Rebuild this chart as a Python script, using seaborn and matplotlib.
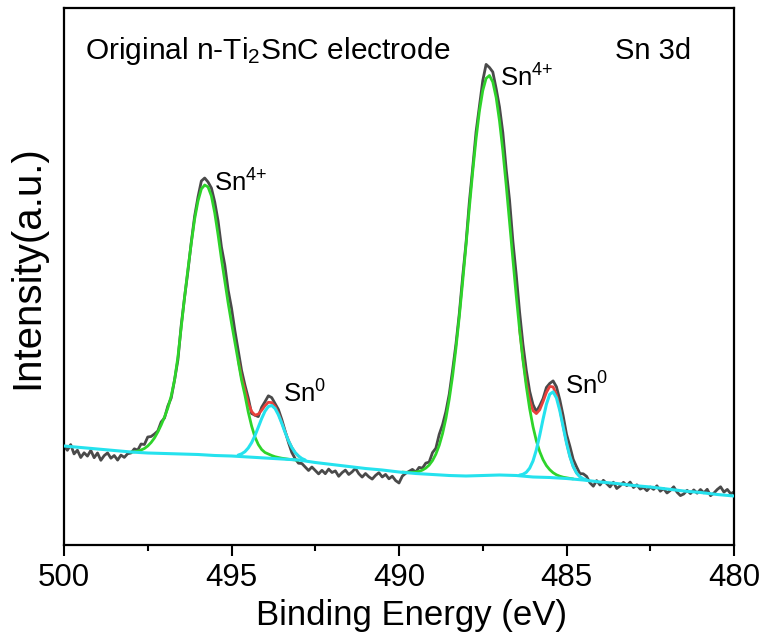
import numpy as np
import pandas as pd
import matplotlib
matplotlib.use("Agg")
import matplotlib.pyplot as plt
import seaborn as sns
from matplotlib.ticker import MultipleLocator

# measured Sn 3d spectrum, 0.1 eV step from 500 down to 480 eV
energy = np.round(np.linspace(500, 480, 201), 1)
raw_counts = [
    99, 94.7, 100.4, 91.1, 94.8, 87.5, 92.2, 88.9, 94.6, 87.3,
    92, 84.7, 89.4, 92.1, 86.8, 89.5, 84.9, 89.9, 87.6, 91.3,
    92, 96.2, 94.8, 101, 100.5, 108, 108.5, 111, 114, 123,
    127, 139, 147, 165, 185, 220, 248, 274, 303, 329,
    348, 364, 367, 363, 357, 343, 324, 298, 280, 255,
    237, 214.5, 194.3, 174.7, 160.1, 147, 131.5, 129.8, 128.4, 137.7,
    143.3, 149.2, 147.4, 141.4, 135.5, 125.6, 114.2, 102.5, 92.5, 86.3,
    81.8, 81.5, 78, 74.5, 78, 74.5, 71.1, 74.7, 71.3, 75.9,
    72.5, 74.1, 68.7, 72.3, 74.9, 70.5, 73.1, 76.7, 71.3, 67.9,
    71.5, 68.2, 65.9, 69.6, 72.3, 68, 70.6, 66.2, 68.8, 64.4,
    62, 68.9, 71.7, 73.6, 75.6, 72.9, 77.6, 76.9, 81.9, 82.9,
    92.4, 96.8, 110.6, 120.3, 133.5, 150.9, 175.0, 200.9, 231.4, 268.1,
    301.8, 343.1, 377.2, 413.1, 438.8, 464.3, 480.6, 477.5, 473.0, 456.5,
    438.0, 412.3, 375.8, 344.9, 303.6, 270.1, 232.9, 200.7, 174.7, 153.8,
    140.4, 133.4, 139.2, 146.4, 157.5, 161.6, 164.1, 158.2, 145.3, 129.3,
    110.8, 98.9, 85.7, 78.2, 71.4, 71.2, 68.6, 62.2, 58.8, 64.4,
    60, 64.7, 61.4, 58.1, 62.8, 56.5, 59.1, 62.7, 59.3, 62.9,
    57.5, 60.2, 55.9, 57.6, 54.3, 58, 55.6, 59.2, 53.8, 56.4,
    52, 54.6, 58.2, 52.8, 49.4, 51, 54.7, 51.4, 55.1, 51.8,
    55.5, 52.1, 55.7, 49.3, 51.9, 55.5, 58.2, 52.9, 55.6, 51.3,
    53,
]

# background, 0.5 eV step
bg_energy = np.round(np.linspace(500, 480, 41), 1)
bg_counts = [
    99, 97.5, 96, 94.5, 93, 92, 91.5, 91, 90.5, 89.5,
    89, 88, 87, 86, 85, 82.5, 80.5, 78.5, 76.5, 75,
    73, 71.5, 70.5, 69.5, 69, 69.5, 70, 69.5, 68, 67.5,
    66.5, 65, 63, 61.5, 59.5, 58, 56, 54, 52.5, 50.5, 49,
]

# Sn4+ 3d3/2 component
sn4_a_energy = np.round(np.linspace(498.0, 493.0, 51), 1)
sn4_a_counts = [
    93.0, 93.2, 93.8, 95, 96.5, 99, 102.5, 107, 113, 120,
    128, 137, 149, 165, 188, 218, 248, 276, 302, 326,
    344, 356, 360, 358, 349, 332, 310, 286, 264, 242,
    222, 203, 184, 165, 150, 133, 119, 108, 100.5, 95.5,
    92.5, 91, 89.5, 88.3, 87.5, 86.8, 86.3, 85.8, 85.4, 85.1, 84.8,
]

# Sn0 3d3/2 component
sn0_a_energy = np.round(np.linspace(494.8, 492.8, 21), 1)
sn0_a_counts = [
    89.9, 91.1, 93.3, 97, 102.3, 109.4, 117.8, 126.4, 133.8, 138.5,
    139.5, 136.5, 130.2, 121.8, 112.7, 104.3, 97.5, 92.4, 89, 86.5, 85,
]

# Sn4+ 3d5/2 component
sn4_b_energy = np.round(np.linspace(489.9, 484.8, 52), 1)
sn4_b_counts = [
    72.9, 72.7, 72.6, 72.6, 72.9, 73.6, 74.9, 76.9, 79.9, 84.4,
    90.8, 99.6, 111.3, 126.5, 145.9, 169.0, 196.9, 228.4, 263.1, 299.8,
    337.1, 373.2, 406.1, 433.8, 454.3, 466.6, 469.5, 463.0, 447.5, 424.0,
    394.3, 359.8, 322.9, 285.6, 249.1, 215.2, 184.9, 158.6, 136.3, 118.4,
    104.2, 93.4, 85.3, 79.4, 75.3, 72.3, 70.2, 68.8, 67.8, 67.2, 66.6, 66.1,
]

# Sn0 3d5/2 component
sn0_b_energy = np.round(np.linspace(486.4, 484.4, 21), 1)
sn0_b_counts = [
    69.9, 70.7, 72.7, 76.8, 84.0, 95.1, 109.6, 125.8, 140.7, 150.8,
    153.1, 147.1, 134.4, 118.2, 102.1, 88.5, 78.5, 72.0, 68.3, 66.2, 65.2,
]

# envelope where the components overlap
env_a_energy = np.round(np.linspace(494.8, 493.0, 19), 1)
env_a_counts = [
    185.3, 167.7, 155.1, 142.0, 133.5, 129.8, 130.9, 134.7, 139.3, 142.7,
    142.4, 138.4, 131.5, 122.6, 113.2, 104.5, 97.5, 92.3, 88.8,
]
env_b_energy = np.round(np.linspace(486.4, 484.6, 19), 1)
env_b_counts = [
    215.9, 186.7, 162.7, 144.8, 134.4, 131.4, 135.2, 143.4, 152.5, 158.6,
    158.1, 150.2, 136.3, 119.3, 102.8, 88.9, 78.7, 72.2, 68.4,
]

sns.set_style("ticks")
plt.rcParams["font.family"] = ["Liberation Sans", "DejaVu Sans"]
plt.rcParams["mathtext.default"] = "regular"
plt.rcParams["text.color"] = "black"
plt.rcParams["axes.labelcolor"] = "black"

fig = plt.figure(figsize=(7.64, 6.4), dpi=100)
ax = fig.add_axes([64 / 764, 95 / 640, 670 / 764, 537 / 640])

raw_col = "#4a4a4a"
red_col = "#e8403c"
green_col = "#2ed42a"
cyan_col = "#25e2ee"

sns.lineplot(x=energy, y=raw_counts, ax=ax, color=raw_col, lw=2.0, zorder=1)
for e, c in [(env_a_energy, env_a_counts), (env_b_energy, env_b_counts)]:
    sns.lineplot(x=e, y=c, ax=ax, color=red_col, lw=2.0, zorder=2)
for e, c in [(sn4_a_energy, sn4_a_counts), (sn4_b_energy, sn4_b_counts)]:
    sns.lineplot(x=e, y=c, ax=ax, color=green_col, lw=2.0, zorder=3)
for e, c in [(sn0_a_energy, sn0_a_counts), (sn0_b_energy, sn0_b_counts),
             (bg_energy, bg_counts)]:
    sns.lineplot(x=e, y=c, ax=ax, color=cyan_col, lw=2.2, zorder=4)

ax.set_xlim(500, 480)
ax.set_ylim(0, 537)
ax.set_yticks([])
ax.xaxis.set_major_locator(MultipleLocator(5))
ax.xaxis.set_minor_locator(MultipleLocator(2.5))
ax.tick_params(axis="x", which="major", direction="out", length=7.7, width=1.5,
               labelsize=22.5, pad=5, colors="black")
ax.tick_params(axis="x", which="minor", direction="out", length=4, width=1.5,
               colors="black")
for sp in ax.spines.values():
    sp.set_visible(True)
    sp.set_linewidth(1.6)
    sp.set_color("black")

ax.set_xlabel("Binding Energy (eV)", fontsize=25)
ax.set_ylabel("Intensity(a.u.)", fontsize=29)
ax.xaxis.set_label_coords(0.519, -0.1)
ax.yaxis.set_label_coords(-0.027, 0.517)

ax.text(0.031, 0.905, "Original n-Ti$_2$SnC electrode", transform=ax.transAxes,
        fontsize=21.5, va="baseline")
ax.text(0.822, 0.905, "Sn 3d", transform=ax.transAxes, fontsize=21, va="baseline")

lab_size = 18.5
ax.text(495.52, 353, "Sn$^{4{+}}$", fontsize=lab_size, va="baseline")
ax.text(493.46, 142, "Sn$^{0}$", fontsize=lab_size, va="baseline")
ax.text(486.99, 458, "Sn$^{4{+}}$", fontsize=lab_size, va="baseline")
ax.text(485.04, 150, "Sn$^{0}$", fontsize=lab_size, va="baseline")

fig.savefig("out.png", dpi=100)
